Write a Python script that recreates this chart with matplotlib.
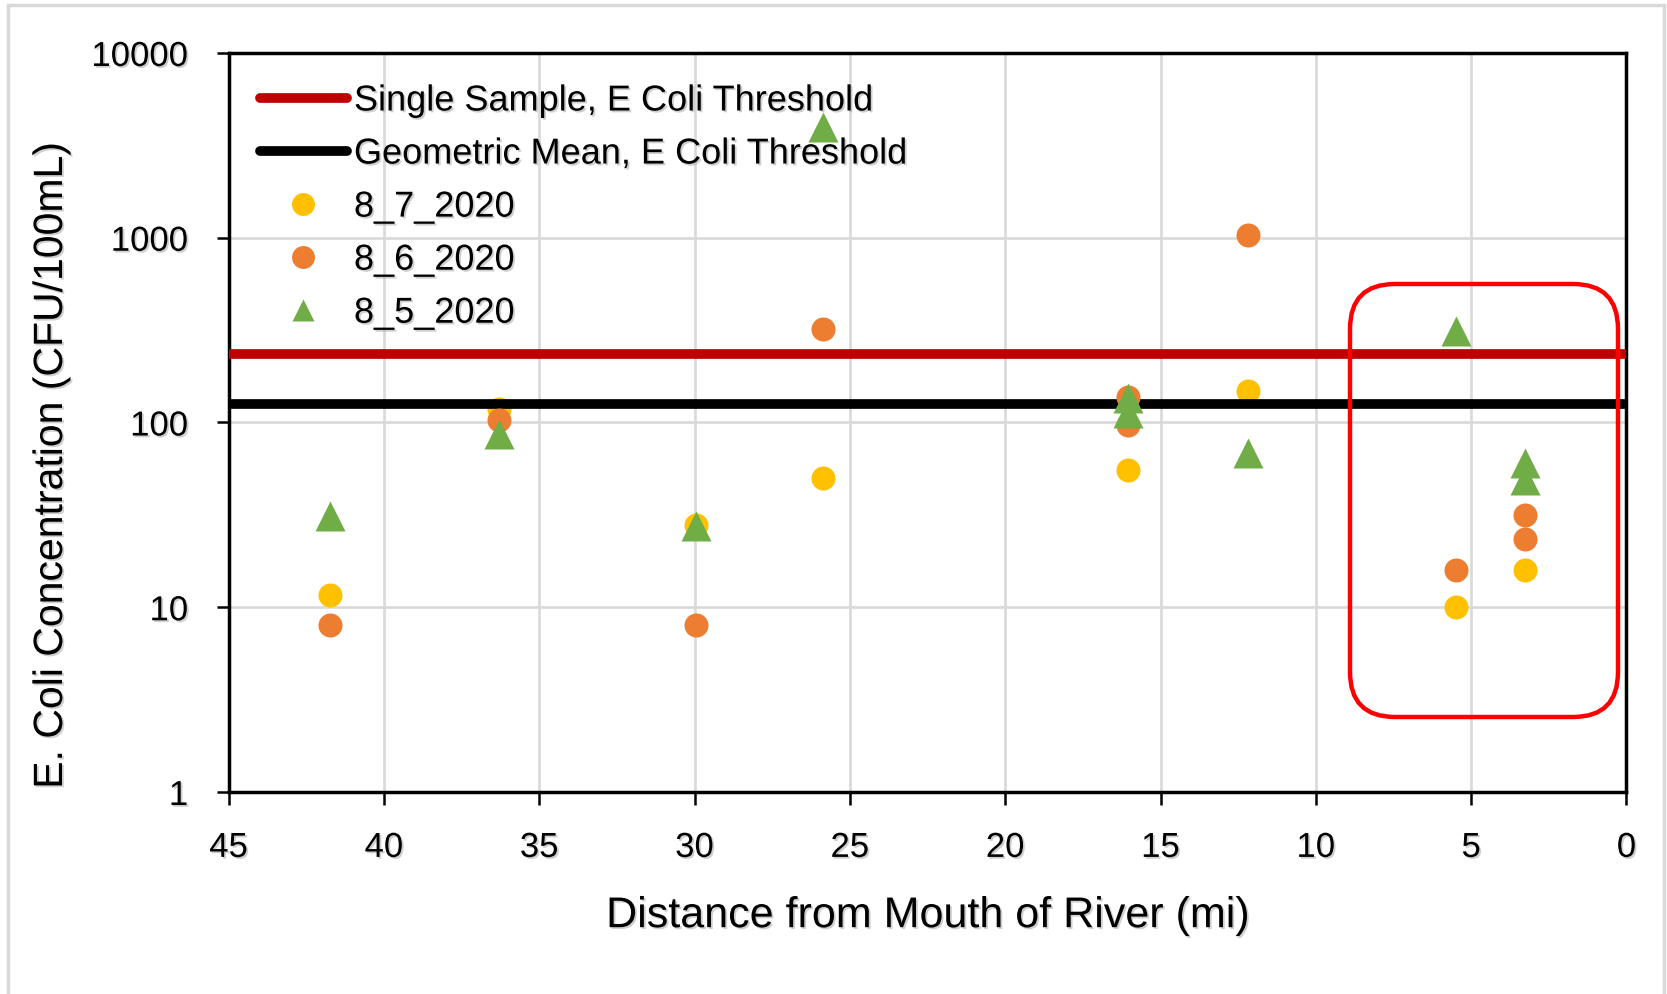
import matplotlib
matplotlib.use('Agg')
import matplotlib.pyplot as plt
from matplotlib.patches import FancyBboxPatch, Rectangle
from matplotlib.ticker import NullLocator
import matplotlib.patheffects as pe

# ---------------- data ----------------
dist_8_7 = [41.75, 36.3, 29.95, 25.85, 16.05, 12.18, 5.5, 3.28]
ecoli_8_7 = [11.7, 119, 27.8, 50, 55, 148, 10, 16]

dist_8_6 = [41.75, 36.3, 29.95, 25.85, 16.05, 16.05, 12.18, 5.5, 3.28, 3.28]
ecoli_8_6 = [8, 103, 8, 319, 138, 97, 1030, 16, 31.7, 23.4]

dist_8_5 = [41.75, 36.3, 29.95, 25.85, 16.05, 16.05, 12.18, 5.5, 3.28, 3.28]
ecoli_8_5 = [31.3, 87, 27.5, 4000, 135, 113, 68, 311, 60.7, 48.8]

single_sample_threshold = 235
geometric_mean_threshold = 126

x_ticks = [45, 40, 35, 30, 25, 20, 15, 10, 5, 0]
y_ticks = [1, 10, 100, 1000, 10000]
y_tick_labels = ['1', '10', '100', '1000', '10000']

series_labels = ['Single Sample, E Coli Threshold', 'Geometric Mean, E Coli Threshold',
                 '8_7_2020', '8_6_2020', '8_5_2020']

# ---------------- style ----------------
plt.rcParams['font.family'] = ['Liberation Sans', 'DejaVu Sans']
shadow = [pe.withSimplePatchShadow(offset=(1.3, -1.3), shadow_rgbFace='#a8a8a8', alpha=0.55)]

fig = plt.figure(figsize=(16.67, 9.94), dpi=100)
ax = fig.add_axes([0.1371, 0.2032, 0.8386, 0.7435])

ax.set_yscale('log')
ax.set_ylim(1, 10000)
ax.set_xlim(45, 0)
ax.set_xticks(x_ticks)
ax.set_xticklabels([str(t) for t in x_ticks])
ax.set_yticks(y_ticks)
ax.set_yticklabels(y_tick_labels)
ax.yaxis.set_minor_locator(NullLocator())

ax.grid(True, color='#D9D9D9', lw=1.9)
ax.set_axisbelow(True)
for s in ax.spines.values():
    s.set_linewidth(2.5)
    s.set_color('black')
ax.tick_params(axis='both', direction='out', length=9, width=1.8, colors='black', labelsize=25)
ax.tick_params(axis='y', pad=20)
ax.tick_params(axis='x', pad=19)
for lbl in ax.get_xticklabels() + ax.get_yticklabels():
    lbl.set_path_effects(shadow)

# threshold lines
l_single = ax.axhline(single_sample_threshold, color='#C00000', lw=7, zorder=3, solid_capstyle='round')
l_geo = ax.axhline(geometric_mean_threshold, color='black', lw=7, zorder=3, solid_capstyle='round')

# samples
p87, = ax.plot(dist_8_7, ecoli_8_7, 'o', ms=17.3, color='#FFC000', mec='none', zorder=2)
p86, = ax.plot(dist_8_6, ecoli_8_6, 'o', ms=17.3, color='#ED7D31', mec='none', zorder=4)
p85, = ax.plot(dist_8_5, ecoli_8_5, '^', ms=22.3, color='#70AD47', mec='none', zorder=5)

leg = ax.legend([l_single, l_geo, p87, p86, p85], series_labels,
                loc='upper left', bbox_to_anchor=(0.156, 0.916), bbox_transform=fig.transFigure,
                frameon=False, fontsize=26, handlelength=2.4, handletextpad=0.2,
                labelspacing=0.5, borderpad=0, borderaxespad=0, numpoints=1)
leg.set_zorder(6)
for t in leg.get_texts():
    t.set_path_effects(shadow)
for h in leg.legend_handles[2:]:
    h.set_markersize(16.5)

ax.set_xlabel('Distance from Mouth of River (mi)', fontsize=31)
ax.xaxis.set_label_coords(0.5, -0.168)
ax.xaxis.label.set_va('center')
ax.set_ylabel('E. Coli Concentration (CFU/100mL)', fontsize=29.5)
ax.yaxis.set_label_coords(-0.127, 0.4425)
ax.yaxis.label.set_va('center')
ax.xaxis.label.set_path_effects(shadow)
ax.yaxis.label.set_path_effects(shadow)

# highlight box (annotation)
box = FancyBboxPatch((13.50, 2.77), 2.68, 4.33,
                     boxstyle='round,pad=0,rounding_size=0.45',
                     transform=fig.dpi_scale_trans, fill=False, ec='#FF0000', lw=3.2, zorder=10)
fig.add_artist(box)

# chart area border
border = Rectangle((8 / 1667, -0.01), (1664 - 8) / 1667, 1.005, transform=fig.transFigure,
                   fill=False, ec='#D9D9D9', lw=2.5)
fig.add_artist(border)

fig.savefig('out.png', dpi=100)
